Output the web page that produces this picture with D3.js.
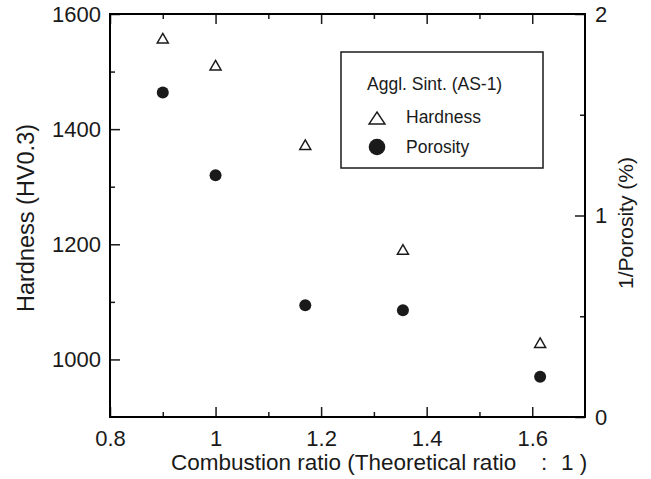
<!DOCTYPE html>
<meta charset="utf-8">
<html>
<style>
  body { margin: 0; background: #fff; }
  svg text { font-family: "Liberation Sans", Arial, sans-serif; fill: #1a1a1a; }
</style>
<body>
<div id="plot"></div>
<script src="https://cdn.jsdelivr.net/npm/d3@7"></script>
<script>
// ---- data ----
const ratio    = [0.9, 1.0, 1.17, 1.355, 1.615];
const hardness = [1558, 1511, 1373, 1191, 1029];
const porosity = [1.61, 1.20, 0.555, 0.53, 0.20];

// ---- ticks ----
const xMajor = [0.8, 1.0, 1.2, 1.4, 1.6];
const xMinor = [0.9, 1.1, 1.3, 1.5];
const yMajor = [1000, 1200, 1400, 1600];
const yMinor = [1100, 1300, 1500];
const rMajor = [0, 1, 2];
const rMinor = [0.5, 1.5];

const W = 651, H = 479;
const L = 110, R = 585, T = 14, B = 417;
const ink = "#1a1a1a";

const svg = d3.select("#plot").append("svg")
  .attr("width", W).attr("height", H);

const x  = d3.scaleLinear().domain([0.8, 1.7]).range([L, R]);
const y  = d3.scaleLinear().domain([900, 1600]).range([B, T]);
const y2 = d3.scaleLinear().domain([0, 2]).range([B, T]);

const fmt = d3.format("~g");

function styleAxis(g) {
  g.select(".domain").remove();
  g.selectAll(".tick line").style("stroke", ink).style("stroke-width", "1.5px");
  g.selectAll(".tick text").style("font-size", "22px").style("fill", ink);
}

// bottom
svg.append("g").attr("transform", `translate(0,${B})`)
  .call(d3.axisBottom(x).tickValues(xMajor).tickSizeInner(-10).tickSizeOuter(0)
        .tickPadding(13).tickFormat(fmt))
  .call(styleAxis);
svg.append("g").attr("transform", `translate(0,${B})`)
  .call(d3.axisBottom(x).tickValues(xMinor).tickSizeInner(-5).tickSizeOuter(0).tickFormat(""))
  .call(styleAxis);
// top
svg.append("g").attr("transform", `translate(0,${T})`)
  .call(d3.axisTop(x).tickValues(xMajor).tickSizeInner(-10).tickSizeOuter(0).tickFormat(""))
  .call(styleAxis);
svg.append("g").attr("transform", `translate(0,${T})`)
  .call(d3.axisTop(x).tickValues(xMinor).tickSizeInner(-5).tickSizeOuter(0).tickFormat(""))
  .call(styleAxis);
// left
svg.append("g").attr("transform", `translate(${L},0)`)
  .call(d3.axisLeft(y).tickValues(yMajor).tickSizeInner(-10).tickSizeOuter(0)
        .tickPadding(9).tickFormat(d3.format("d")))
  .call(styleAxis);
svg.append("g").attr("transform", `translate(${L},0)`)
  .call(d3.axisLeft(y).tickValues(yMinor).tickSizeInner(-5).tickSizeOuter(0).tickFormat(""))
  .call(styleAxis);
// right
svg.append("g").attr("transform", `translate(${R},0)`)
  .call(d3.axisRight(y2).tickValues(rMajor).tickSizeInner(-10).tickSizeOuter(0)
        .tickPadding(10).tickFormat(fmt))
  .call(styleAxis);
svg.append("g").attr("transform", `translate(${R},0)`)
  .call(d3.axisRight(y2).tickValues(rMinor).tickSizeInner(-5).tickSizeOuter(0).tickFormat(""))
  .call(styleAxis);

// frame
svg.append("path")
  .attr("d", `M${L},${T}H${R}V${B}H${L}Z`)
  .style("fill", "none").style("stroke", "#000").style("stroke-width", "2px");

// axis titles
const xt = svg.append("text").attr("y", 470).style("font-size", "22.5px");
xt.append("tspan").attr("x", 171).text("Combustion ratio (Theoretical ratio");
xt.append("tspan").attr("x", 541).text(":");
xt.append("tspan").attr("x", 561).style("white-space", "pre").text("1 )");

svg.append("text")
  .attr("transform", "translate(34,218) rotate(-90)")
  .attr("text-anchor", "middle").style("font-size", "23.5px")
  .text("Hardness (HV0.3)");

svg.append("text")
  .attr("transform", "translate(633,223) rotate(-90)")
  .attr("text-anchor", "middle").style("font-size", "21px")
  .text("1/Porosity (%)");

// triangle with given width and height, centred on its box
function tri(w, h) {
  return { draw(ctx) {
    ctx.moveTo(0, -h / 2);
    ctx.lineTo(w / 2, h / 2);
    ctx.lineTo(-w / 2, h / 2);
    ctx.closePath();
  }};
}

// points
const pts = ratio.map((r, i) => ({ r, h: hardness[i], p: porosity[i] }));

svg.selectAll("path.hard").data(pts).join("path")
  .attr("class", "hard")
  .attr("d", d3.symbol(tri(11, 9.5)))
  .attr("transform", d => `translate(${x(d.r)},${y(d.h)})`)
  .style("fill", "none").style("stroke", ink).style("stroke-width", "1.5px");

svg.selectAll("circle.por").data(pts).join("circle")
  .attr("class", "por")
  .attr("cx", d => x(d.r)).attr("cy", d => y2(d.p))
  .attr("r", 6).style("fill", ink);

// legend
const lg = svg.append("g");
lg.append("rect")
  .attr("x", 341).attr("y", 52).attr("width", 202).attr("height", 116)
  .style("fill", "#fff").style("stroke", ink).style("stroke-width", "1.5px");
lg.append("text").attr("x", 367).attr("y", 90).style("font-size", "17.5px")
  .text("Aggl. Sint. (AS-1)");
lg.append("path")
  .attr("d", d3.symbol(tri(16, 12)))
  .attr("transform", "translate(377,118)")
  .style("fill", "none").style("stroke", ink).style("stroke-width", "1.4px");
lg.append("text").attr("x", 406).attr("y", 123).style("font-size", "17.5px").text("Hardness");
lg.append("circle").attr("cx", 377).attr("cy", 147).attr("r", 8.3).style("fill", ink);
lg.append("text").attr("x", 406).attr("y", 153).style("font-size", "17.5px").text("Porosity");
</script>
</body>
</html>
